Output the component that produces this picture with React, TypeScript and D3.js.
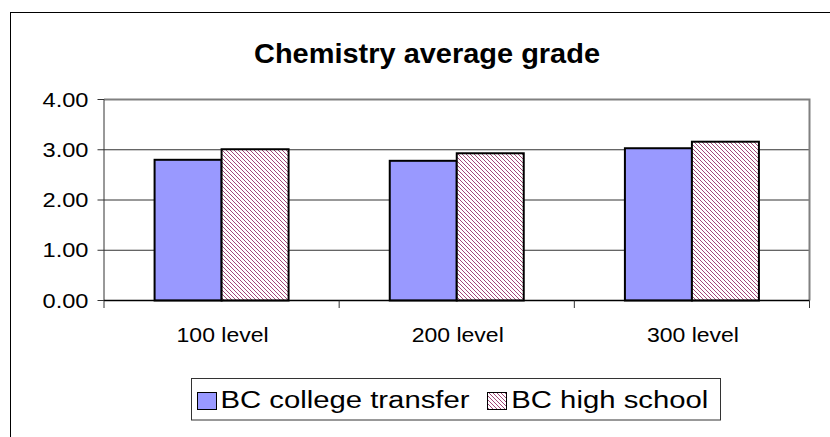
import React from "react";
import * as d3 from "d3";

const categories = ["100 level", "200 level", "300 level"];
const seriesNames = ["BC college transfer", "BC high school"];
const collegeTransfer = [2.8, 2.78, 3.03];
const highSchool = [3.01, 2.93, 3.16];
const yTicks = [0, 1, 2, 3, 4];

const FONT = "'Liberation Sans', Arial, Helvetica, sans-serif";

const App = () => {
  const width = 830;
  const height = 437;
  const plot = { left: 104, right: 809.5, top: 99.5, bottom: 300.5 };

  const x = d3.scaleBand().domain(categories).range([plot.left, plot.right]);
  const xs = d3
    .scaleBand()
    .domain(seriesNames)
    .range([0, x.bandwidth()])
    .paddingInner(0)
    .paddingOuter(0.755);
  const y = d3.scaleLinear().domain([0, 4]).range([plot.bottom, plot.top]);
  const fmt = d3.format(".2f");

  const series = [
    { name: seriesNames[0], values: collegeTransfer, fill: "#9999FF" },
    { name: seriesNames[1], values: highSchool, fill: "url(#diag)" },
  ];

  const boundaries = [...categories.map(c => x(c)), plot.right];

  return (
    <svg
      width={width}
      height={height}
      style={{ position: "absolute", left: 0, top: 0, background: "#fff" }}
      fontFamily={FONT}
    >
      <defs>
        <pattern id="diag" width="4" height="4" patternUnits="userSpaceOnUse">
          <rect width="4" height="4" fill="#fff" />
          <path
            d="M-1,-1 L5,5 M-1,3 L1,5 M3,-1 L5,1"
            stroke="#a3487a"
            strokeWidth="1"
          />
        </pattern>
      </defs>

      {/* chart frame */}
      <rect x={10.5} y={12.5} width={900} height={500} fill="none" stroke="#000" />

      <text
        x={427}
        y={62.7}
        textAnchor="middle"
        fontWeight="bold"
        fontSize={27.5}
        textLength={346}
        lengthAdjust="spacingAndGlyphs"
      >
        Chemistry average grade
      </text>

      {/* gridlines */}
      {yTicks.filter(t => t > 0 && t < 4).map(t => (
        <line key={t} x1={plot.left} x2={plot.right} y1={y(t)} y2={y(t)} stroke="#333" />
      ))}
      {/* plot border top/right */}
      <path
        d={`M${plot.left},${plot.top} H${plot.right} V${plot.bottom}`}
        fill="none"
        stroke="#808080"
        strokeWidth={2}
      />

      {/* y axis */}
      <line x1={plot.left} x2={plot.left} y1={plot.top} y2={plot.bottom} stroke="#333" />
      {yTicks.map(t => (
        <g key={t}>
          <line x1={plot.left - 6.5} x2={plot.left} y1={y(t)} y2={y(t)} stroke="#333" />
          <text
            x={88.5}
            y={y(t) + 7}
            textAnchor="end"
            fontSize={19.5}
            textLength={46}
            lengthAdjust="spacingAndGlyphs"
          >
            {fmt(t)}
          </text>
        </g>
      ))}

      {/* bars */}
      {series.map(s =>
        categories.map((c, i) => (
          <rect
            key={s.name + c}
            x={x(c) + xs(s.name)}
            y={y(s.values[i])}
            width={xs.bandwidth()}
            height={y(0) - y(s.values[i])}
            fill={s.fill}
            stroke="#000"
            strokeWidth={2}
          />
        ))
      )}

      {/* x axis */}
      <line x1={plot.left} x2={plot.right} y1={plot.bottom} y2={plot.bottom} stroke="#000" strokeWidth={1.5} />
      {boundaries.map((b, i) => (
        <line key={i} x1={b} x2={b} y1={plot.bottom} y2={plot.bottom + 7.5} stroke="#333" />
      ))}
      {categories.map(c => (
        <text
          key={c}
          x={x(c) + x.bandwidth() / 2 + 1}
          y={341.7}
          textAnchor="middle"
          fontSize={20}
          textLength={92}
          lengthAdjust="spacingAndGlyphs"
        >
          {c}
        </text>
      ))}

      {/* legend */}
      <rect x={191.5} y={378.5} width={529} height={41.5} fill="#fff" stroke="#333" />
      <rect x={197.5} y={392.5} width={19} height={17} fill="#9999FF" stroke="#000" />
      <text x={220.5} y={408.3} fontSize={23.3} textLength={249} lengthAdjust="spacingAndGlyphs">
        {seriesNames[0]}
      </text>
      <rect x={487.5} y={392.5} width={19} height={17} fill="url(#diag)" stroke="#000" />
      <text x={511.3} y={408.3} fontSize={23.3} textLength={197} lengthAdjust="spacingAndGlyphs">
        {seriesNames[1]}
      </text>
    </svg>
  );
};

export default App;
